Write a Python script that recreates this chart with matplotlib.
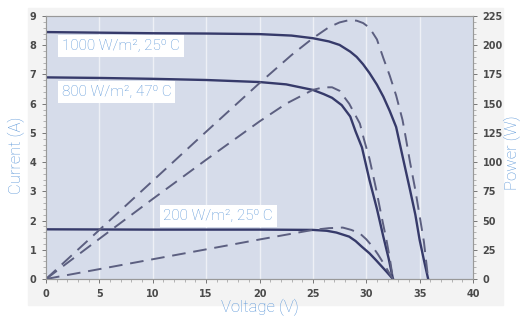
import numpy as np
import matplotlib.pyplot as plt
from matplotlib.patches import Rectangle
from matplotlib.ticker import MultipleLocator

# I-V curves (voltage V, current A)
v_1000 = [0, 5, 10, 15, 20, 23, 25, 26.5, 27.5, 28.5, 29.1, 29.7, 30.3, 31.0, 31.6,
          32.2, 32.8, 33.4, 34.1, 34.6, 35.0, 35.4, 35.8]
i_1000 = [8.45, 8.43, 8.41, 8.40, 8.38, 8.33, 8.24, 8.13, 8.01, 7.78, 7.60, 7.35, 7.05,
          6.65, 6.24, 5.75, 5.20, 4.20, 3.05, 2.20, 1.34, 0.65, 0.0]
v_800 = [0, 5, 10, 15, 20, 22.5, 25, 26, 26.8, 27.7, 28.5, 29.0, 29.6, 30.3, 31.0,
         31.6, 32.1, 32.5]
i_800 = [6.90, 6.88, 6.85, 6.81, 6.74, 6.66, 6.47, 6.33, 6.20, 5.95, 5.56, 5.05, 4.50,
         3.39, 2.40, 1.45, 0.70, 0.0]
v_200 = [0, 10, 20, 25, 26.3, 27.2, 28.4, 29.0, 29.6, 30.3, 30.9, 31.4, 31.9, 32.5]
i_200 = [1.70, 1.69, 1.69, 1.68, 1.65, 1.59, 1.45, 1.30, 1.10, 0.88, 0.65, 0.45, 0.25, 0.0]

# P-V curves (voltage V, power W)
pv_1000 = [0, 5, 10, 15, 20, 23, 25, 26.5, 27.5, 28.4, 29.1, 29.7, 30.3, 31.0, 31.6,
           32.2, 32.8, 33.4, 33.7, 34.1, 34.6, 35.0, 35.4, 35.8]
p_1000 = [0, 42, 84, 126, 167.6, 191.6, 206, 215.4, 219.5, 221.5, 221, 219, 215, 205,
          189, 174, 157, 136, 121, 100, 76, 54, 32, 0]
pv_800 = [0, 5, 10, 15, 20, 22.5, 25, 26, 26.8, 27.5, 28.4, 29.4, 29.8, 30.3, 30.9,
          31.4, 31.9, 32.2, 32.5]
p_800 = [0, 34.4, 68.5, 102, 134.8, 150, 161.8, 164, 164, 161, 150, 133, 119, 103, 78,
         55, 33, 18, 0]
pv_200 = [0, 10, 20, 25, 26.5, 27.8, 28.6, 29.4, 30.0, 30.6, 31.1, 31.6, 32.1, 32.5]
p_200 = [0, 16.9, 33.8, 42, 43.5, 44, 42, 39, 34, 27.6, 21, 13.7, 6, 0]

labels = ["1000 W/m\u00b2, 25\u2070 C", "800 W/m\u00b2, 47\u2070 C", "200 W/m\u00b2, 25\u2070 C"]
label_pos = [(1.5, 7.98), (1.5, 6.4), (11.0, 2.16)]

solid_c = '#363a6a'
dash_c = '#5c5f80'
text_c = '#5a96d8'
tick_c = '#4a4a4a'
fams = ['Liberation Sans Narrow', 'DejaVu Sans Condensed', 'Roboto', 'DejaVu Sans']

fig = plt.figure(figsize=(5.21, 3.22), dpi=100)
fig.add_artist(Rectangle((28 / 521, 1 - 305 / 322), 475 / 521, 297 / 322,
                         transform=fig.transFigure, color='#f3f3f3', zorder=-5))
ax = fig.add_axes([46 / 521, 1 - 279 / 322, 427 / 521, 263 / 322])
ax.set_facecolor('#d6dcea')
ax2 = ax.twinx()

for v, i in [(v_1000, i_1000), (v_800, i_800), (v_200, i_200)]:
    ax.plot(v, i, color=solid_c, lw=1.7, zorder=3)
for v, p in [(pv_1000, p_1000), (pv_800, p_800), (pv_200, p_200)]:
    ax2.plot(v, p, color=dash_c, lw=1.4, dashes=(7, 4))

ax.set_xlim(0, 40)
ax.set_ylim(0, 9)
ax2.set_ylim(0, 225)
ax.xaxis.set_major_locator(MultipleLocator(5))
ax.xaxis.set_minor_locator(MultipleLocator(1))
ax.yaxis.set_major_locator(MultipleLocator(1))
ax.yaxis.set_minor_locator(MultipleLocator(0.2))
ax2.yaxis.set_major_locator(MultipleLocator(25))
ax2.yaxis.set_minor_locator(MultipleLocator(5))
ax.grid(axis='x', color='white', alpha=0.6, lw=1)
ax.set_axisbelow(True)

for a in (ax, ax2):
    a.tick_params(which='major', length=3, width=0.7, color='#777', labelsize=7,
                  labelcolor=tick_c, pad=4)
    a.tick_params(which='minor', length=2, width=0.5, color='#999')
    for s in a.spines.values():
        s.set_color('#999')
        s.set_linewidth(0.8)
    for lab in a.get_xticklabels() + a.get_yticklabels():
        lab.set_fontweight('bold')
ax.spines['top'].set_color('#bbb')

ax.set_xlabel('Voltage (V)', color=text_c, fontsize=12, family=fams, fontweight='light')
ax.xaxis.set_label_coords(0.5, -0.075)
ax.set_ylabel('Current (A)', color=text_c, fontsize=12, family=fams, fontweight='light')
ax.yaxis.set_label_coords(-0.05, 0.47)
ax2.set_ylabel('Power (W)', color=text_c, fontsize=12, family=fams, fontweight='light')
ax2.yaxis.set_label_coords(1.072, 0.48)

for txt, (x, y) in zip(labels, label_pos):
    ax.text(x, y, txt, color=text_c, fontsize=11, family=fams, fontweight='light',
            va='center', zorder=4,
            bbox=dict(facecolor='white', edgecolor='none', boxstyle='square,pad=0.25'))

fig.savefig('out.png', dpi=100)
